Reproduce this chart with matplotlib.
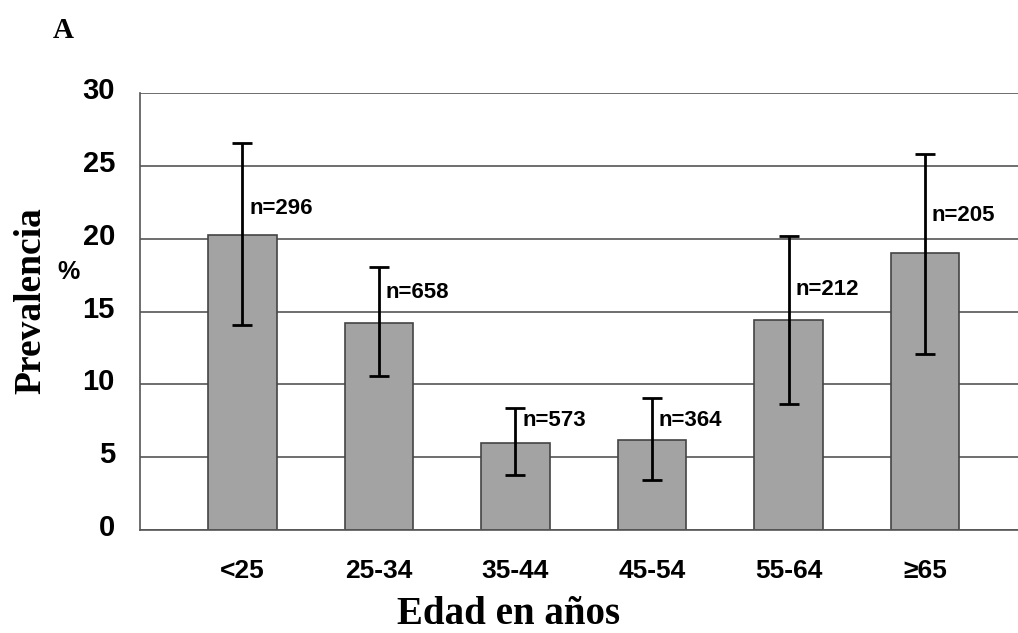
import numpy as np
import matplotlib
matplotlib.use('Agg')
import matplotlib.pyplot as plt
import matplotlib.transforms as mtransforms

# data
age_groups = ['<25', '25-34', '35-44', '45-54', '55-64', '\u226565']
prevalence = [20.25, 14.2, 5.95, 6.15, 14.4, 19.0]
ci_low = [14.05, 10.55, 3.75, 3.45, 8.65, 12.1]
ci_high = [26.55, 18.05, 8.35, 9.05, 20.2, 25.8]
n_labels = ['n=296', 'n=658', 'n=573', 'n=364', 'n=212', 'n=205']
label_y = [22.1, 16.3, 7.5, 7.5, 16.5, 21.6]

sans = 'Liberation Sans'
serif = 'Liberation Serif'

fig = plt.figure(figsize=(10.18, 6.33), dpi=100)
ax = fig.add_axes([0.1375, 0.1627, 0.8625, 0.6903])

x = np.arange(len(age_groups))
prev = np.array(prevalence)
yerr = [prev - np.array(ci_low), np.array(ci_high) - prev]

ax.set_axisbelow(True)
ax.yaxis.grid(True, color='#555555', linewidth=1.2)
ax.bar(x, prev, width=0.5, color='#a3a3a3', edgecolor='#444444', linewidth=1.2, zorder=2)
ax.errorbar(x, prev, yerr=yerr, fmt='none', ecolor='black', elinewidth=2,
            capsize=7, capthick=2, zorder=3)

for i in range(len(x)):
    ax.text(x[i] + 0.05, label_y[i], n_labels[i], fontsize=16, fontweight='bold',
            family=sans, ha='left', va='center', zorder=4)

ax.set_xlim(-0.75, 5.68)
ax.set_ylim(0, 30)
ax.set_yticks([0, 5, 10, 15, 20, 25, 30])
ax.set_xticks(x)
ax.set_xticklabels(age_groups)
ax.tick_params(length=0)
ax.tick_params(axis='y', pad=18)
ax.tick_params(axis='x', pad=21)
for lab in ax.get_xticklabels():
    lab.set_fontsize(19)
    lab.set_fontweight('bold')
    lab.set_family(sans)
shift_up = mtransforms.ScaledTranslation(0, 5 / 100, fig.dpi_scale_trans)
for lab in ax.get_yticklabels():
    lab.set_fontsize(21)
    lab.set_fontweight('bold')
    lab.set_family(sans)
    lab.set_transform(lab.get_transform() + shift_up)

for s in ['top', 'right']:
    ax.spines[s].set_visible(False)
ax.spines['left'].set_color('#555555')
ax.spines['left'].set_linewidth(1.2)
ax.spines['bottom'].set_color('#555555')
ax.spines['bottom'].set_linewidth(1.2)

fig.text(0.5, 0.03, 'Edad en años', fontsize=28, fontweight='bold', family=serif,
         ha='center', va='center')
fig.text(0.03, 0.525, 'Prevalencia', fontsize=27, fontweight='bold', family=serif,
         ha='center', va='center', rotation=90)
fig.text(0.067, 0.57, '%', fontsize=18, fontweight='bold', family=sans,
         ha='center', va='center')
fig.text(0.062, 0.952, 'A', fontsize=21, fontweight='bold', family=serif,
         ha='center', va='center')

fig.savefig('out.png', dpi=100)
